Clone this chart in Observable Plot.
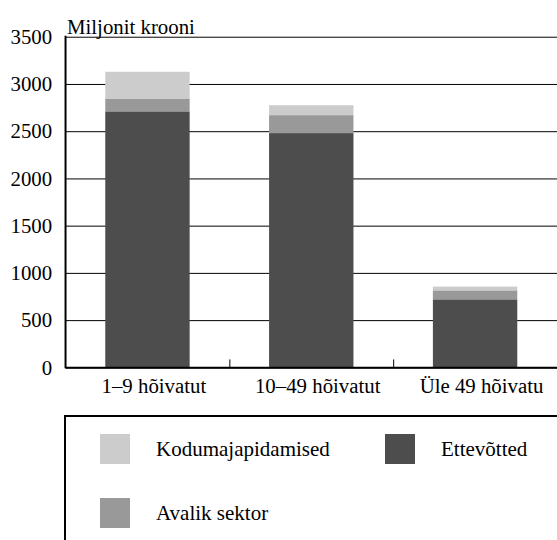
<!DOCTYPE html>
<html>
<head>
<meta charset="utf-8">
<script src="https://cdn.jsdelivr.net/npm/d3@7"></script>
<script src="https://cdn.jsdelivr.net/npm/@observablehq/plot@0.6"></script>
<style>
  html, body { margin: 0; padding: 0; background: #fff; overflow: hidden; }
  body { font-family: "Liberation Serif", "Times New Roman", serif; width: 557px; height: 540px; }
  svg, svg text { font-family: "Liberation Serif", "Times New Roman", serif !important; }
  #legend {
    margin-left: 64px; margin-top: 8px;
    border: 2px solid #000; border-right: none; border-bottom: none;
    height: 200px; box-sizing: border-box;
    padding-top: 17px; padding-left: 34px;
    display: grid; grid-template-columns: 285px auto; row-gap: 34px; align-content: start;
    font-size: 21px; color: #000;
  }
  .item { display: flex; align-items: center; height: 30px; }
  .sw { width: 30px; height: 30px; margin-right: 26px; flex: none; }
</style>
</head>
<body>
<div id="chart"></div>
<div id="legend"></div>
<script>
const categories = ["1–9 hõivatut", "10–49 hõivatut", "Üle 49 hõivatu"];
const seriesNames = ["Ettevõtted", "Avalik sektor", "Kodumajapidamised"];
const ettevotted = [2710, 2480, 720];
const avalikSektor = [136, 190, 95];
const kodumajapidamised = [283, 105, 40];
const yTicks = [0, 500, 1000, 1500, 2000, 2500, 3000, 3500];
const colors = ["#4d4d4d", "#999999", "#cccccc"];
const legendOrder = ["Kodumajapidamised", "Ettevõtted", "Avalik sektor"];

const seriesValues = [ettevotted, avalikSektor, kodumajapidamised];
const data = [];
categories.forEach((c, i) => {
  seriesNames.forEach((s, j) => data.push({cat: c, series: s, value: seriesValues[j][i]}));
});

const plot = Plot.plot({
  width: 561, height: 410,
  marginLeft: 66, marginRight: 0, marginTop: 37, marginBottom: 40,
  style: {fontSize: "21px", color: "#000", background: "#fff"},
  x: {domain: categories, paddingInner: 0.485, paddingOuter: 0.2425, label: null},
  y: {domain: [0, 3500], label: null},
  color: {domain: seriesNames, range: colors},
  marks: [
    Plot.ruleY(yTicks, {stroke: "#000", strokeWidth: 1}),
    Plot.barY(data, Plot.stackY({x: "cat", y: "value", fill: "series", order: seriesNames})),
    Plot.ruleY([0], {stroke: "#000", strokeWidth: 2}),
    Plot.axisY({ticks: yTicks, tickFormat: d => String(d), tickSize: 0, tickPadding: 14, fontSize: 21, label: null}),
    Plot.axisX({tickSize: 0, tickPadding: 10, fontSize: 21, dx: 6, label: null}),
    Plot.text(["Miljonit krooni"], {frameAnchor: "top-left", dx: 1, dy: -18, textAnchor: "start", fontSize: 21})
  ]
});

// left axis line and boundary ticks on the x axis, placed with the plot's own scales
const xs = plot.scale("x"), ys = plot.scale("y");
const svg = d3.select(plot);
const x0 = xs.range[0];
const yTop = ys.apply(3500), yBot = ys.apply(0);
svg.append("line").attr("x1", x0).attr("x2", x0).attr("y1", yTop - 1).attr("y2", yBot + 1)
  .attr("stroke", "#000").attr("stroke-width", 2);
const step = xs.step;
for (let i = 1; i <= categories.length; i++) {
  const bx = Math.round(x0 + i * step) + 0.5;
  svg.append("line").attr("x1", bx).attr("x2", bx).attr("y1", yBot - 8).attr("y2", yBot)
    .attr("stroke", "#000").attr("stroke-width", 1);
}

document.getElementById("chart").appendChild(plot);

const legend = document.getElementById("legend");
legendOrder.forEach(name => {
  const item = document.createElement("div");
  item.className = "item";
  const sw = document.createElement("div");
  sw.className = "sw";
  sw.style.background = colors[seriesNames.indexOf(name)];
  const t = document.createElement("span");
  t.textContent = name;
  item.appendChild(sw); item.appendChild(t);
  legend.appendChild(item);
});
</script>
</body>
</html>
